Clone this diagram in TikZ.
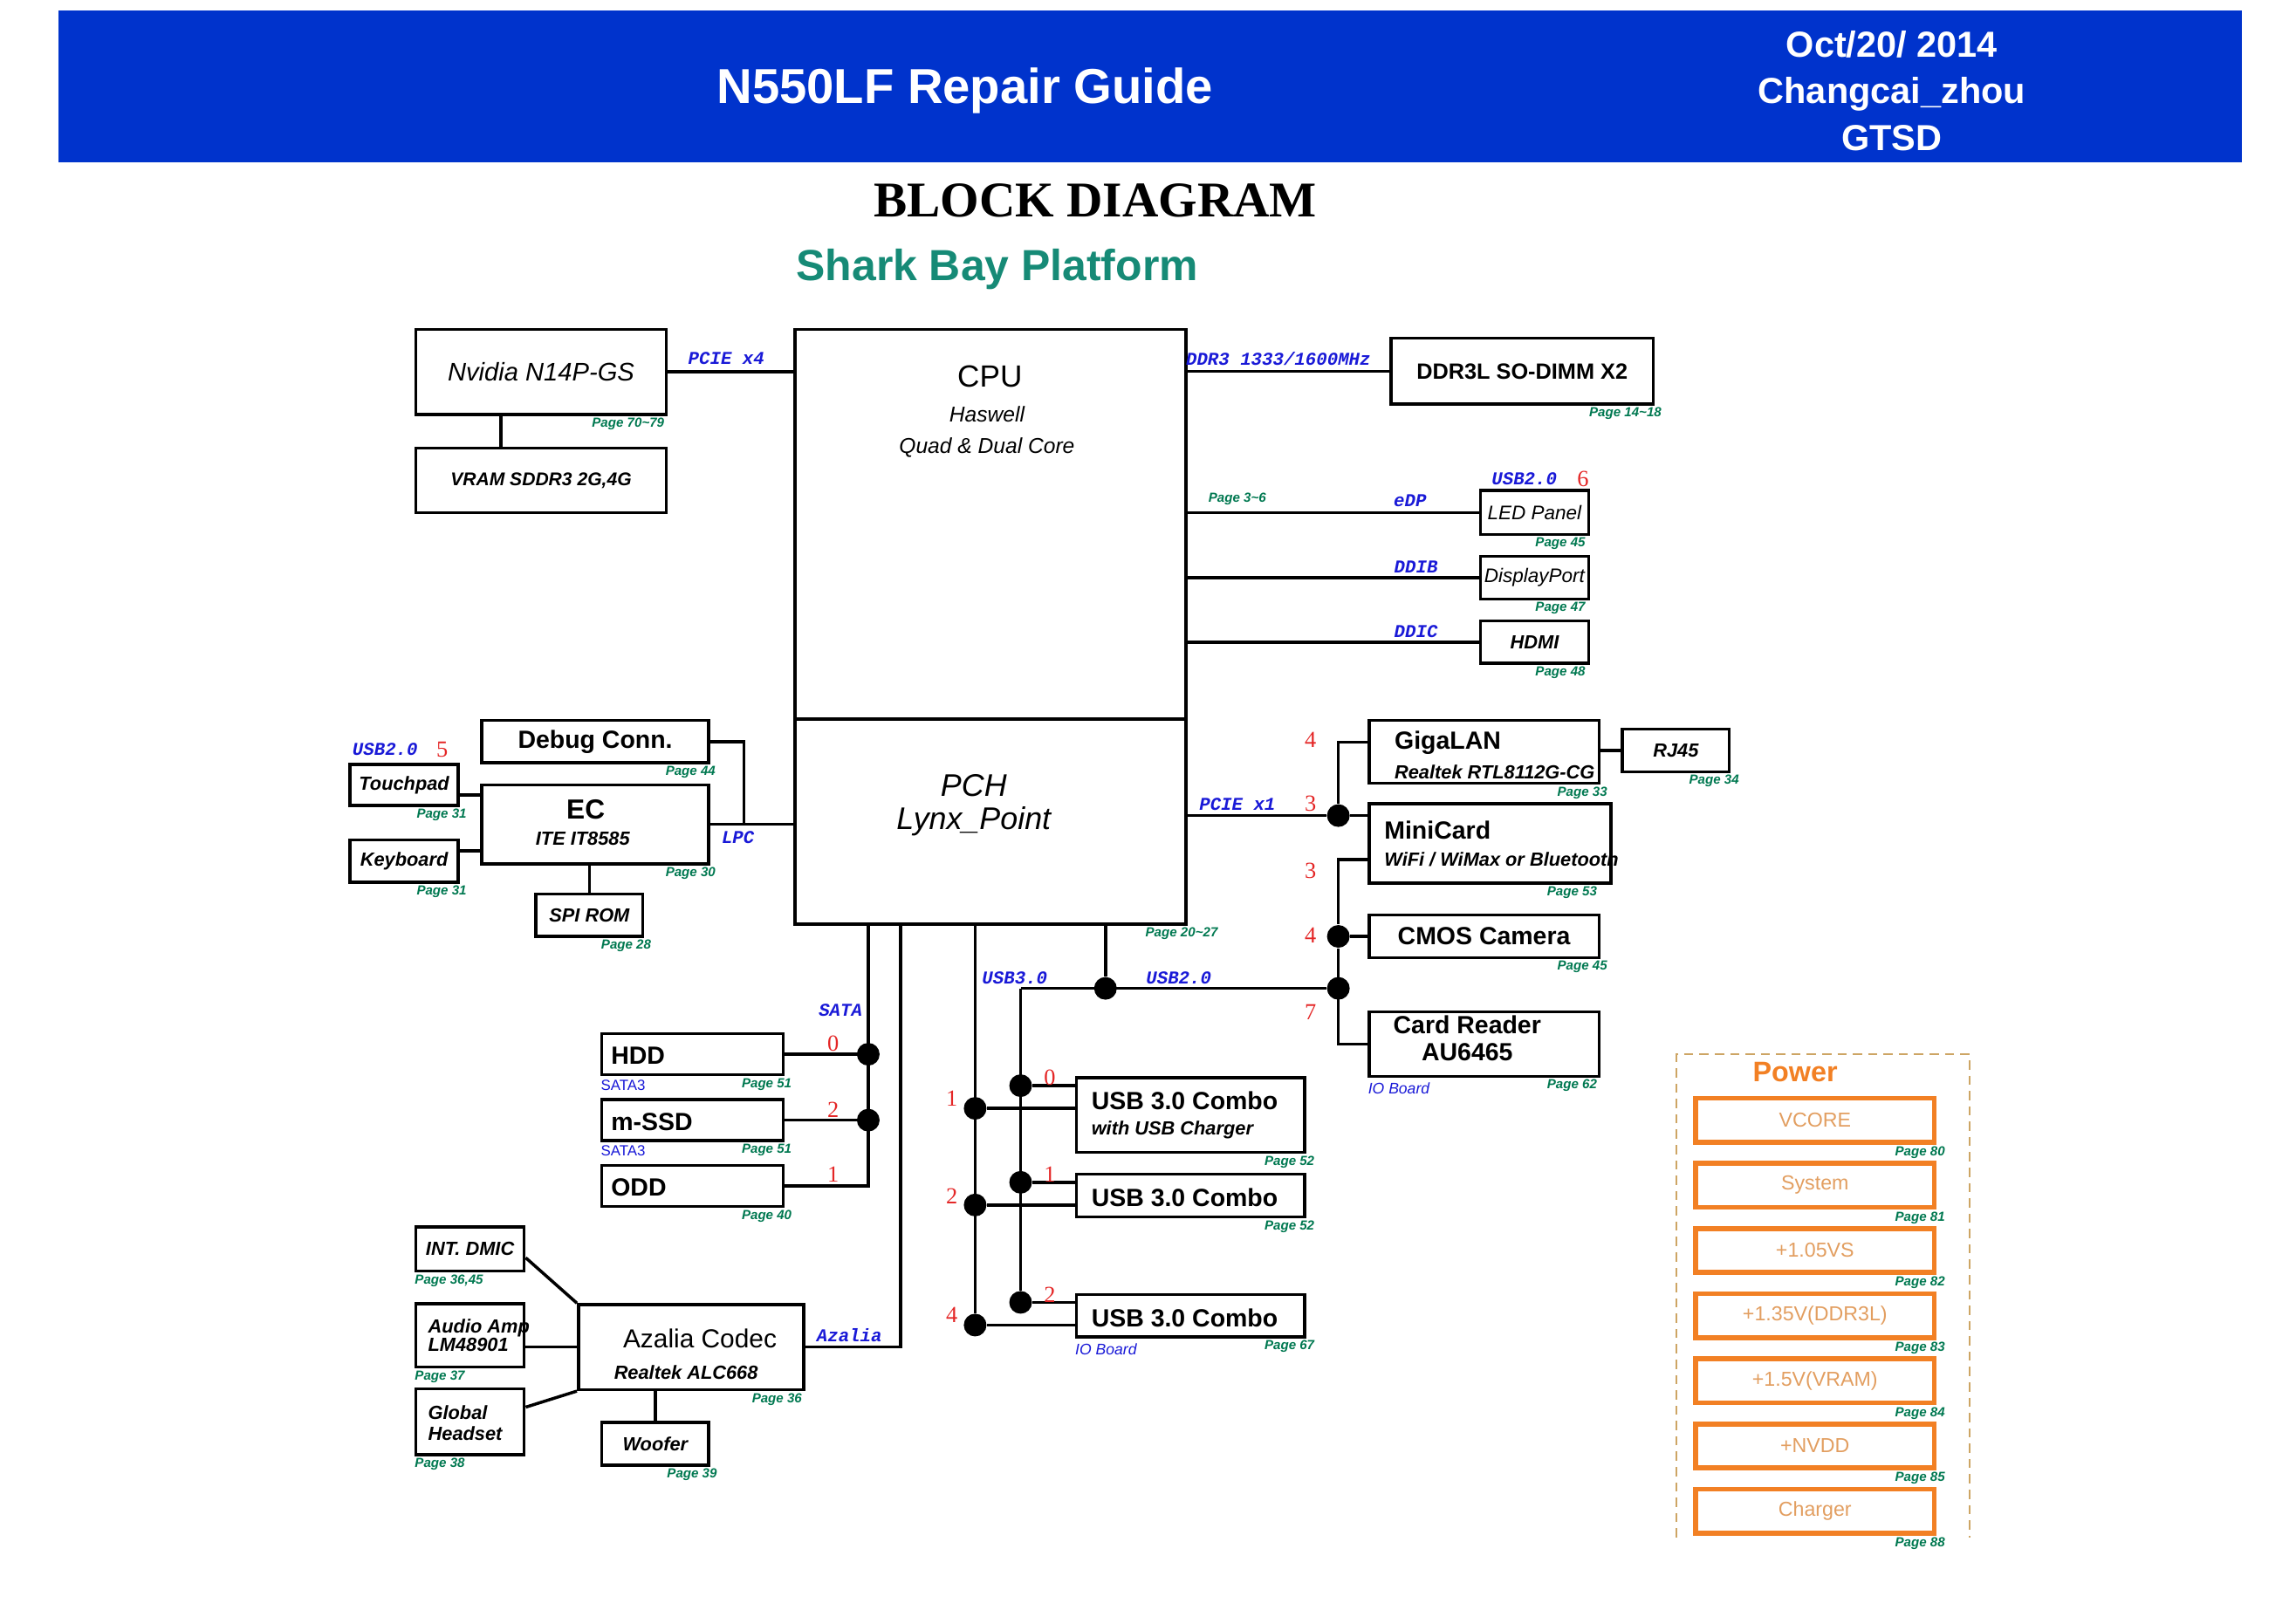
\documentclass[tikz,border=0pt]{standalone}
\usepackage{fontspec}
\setmainfont{Liberation Sans}
\setmonofont{Liberation Mono}
\newfontfamily\titlefont{Liberation Serif}
\usetikzlibrary{calc}

\definecolor{headblue}{RGB}{0,51,204}
\definecolor{platteal}{RGB}{22,138,118}
\definecolor{pagegreen}{RGB}{0,120,80}
\definecolor{busblue}{RGB}{25,25,215}
\definecolor{portred}{RGB}{228,38,38}
\definecolor{pwrorange}{RGB}{242,128,36}
\definecolor{pwrtext}{RGB}{226,158,96}
\definecolor{pwrframe}{RGB}{205,165,100}

\newcommand\fsz[2]{\fontsize{#1}{#2}\selectfont}

\begin{document}
\begin{tikzpicture}[x=0.1678mm, y=-0.1678mm,
every node/.style={inner sep=0pt},
blk/.style={draw, line width=1pt, align=center},
sz/.style 2 args={minimum width=#1*0.1678mm, minimum height=#2*0.1678mm},
wire/.style={line width=1pt},
jdot/.style={circle, fill, minimum size=2.6mm},
pg/.style={font=\fsz{4.3}{5}\bfseries\itshape, text=pagegreen},
bus/.style={font=\fsz{5.9}{7}\ttfamily\bfseries\itshape, text=busblue},
num/.style={font=\fsz{7.5}{8}\titlefont, text=portred},
big/.style={font=\fsz{8.1}{9}\bfseries},
sub/.style={font=\fsz{6.2}{7.4}\bfseries\itshape},
pwr/.style={draw=pwrorange, line width=1.6pt, sz={163}{30}, font=\fsz{6.6}{8}, text=pwrtext}
]
\useasboundingbox (0,0) rectangle (1568,1109);

% header
\node[fill=headblue, sz={1491}{104}] (band) at (785.5,59) {};
\node[font=\fsz{16}{19}\bfseries, text=white] (ttl) at (659,62) {N550LF Repair Guide};
\node[font=\fsz{11.8}{15.3}\bfseries, text=white, align=center] (meta) at (1292,62) {Oct/20/ 2014\\Changcai\_zhou\\GTSD};
\node[font=\fsz{16.3}{19}\titlefont\bfseries] (bd) at (748,137) {BLOCK DIAGRAM};
\node[font=\fsz{14.2}{16}\bfseries, text=platteal] (sbp) at (681,184) {Shark Bay Platform};

% cpu / pch
\node[blk, sz={267}{266}] (cpu) at (676.5,358) {};
\node[blk, sz={267}{140}] (pch) at (676.5,561) {};
\node[font=\fsz{10}{12}] (cpuN) at (676,257) {CPU};
\node[font=\fsz{7}{10}\itshape, align=center] (cpuS) at (674,295) {Haswell\\Quad \& Dual Core};
\node[font=\fsz{10.2}{11}\itshape, align=center] (pchN) at (665,550) {PCH\\Lynx\_Point};

% graphics, memory, display
\node[blk, sz={171}{58}, font=\fsz{8.3}{10}\itshape] (gpu) at (369.5,254) {Nvidia N14P-GS};
\node[blk, sz={171}{44}, font=\fsz{6}{7}\bfseries\itshape] (vram) at (369.5,328) {VRAM SDDR3 2G,4G};
\node[blk, sz={179}{45}, font=\fsz{7.2}{9}\bfseries] (ddr) at (1039.5,253.5) {DDR3L SO-DIMM X2};
\node[blk, sz={74}{30}, font=\fsz{6.4}{8}\itshape] (led) at (1048,350) {LED Panel};
\node[blk, sz={74}{29}, font=\fsz{6.4}{8}\itshape] (dp) at (1048,394.5) {DisplayPort};
\node[blk, sz={74}{29}, font=\fsz{6.2}{8}\bfseries\itshape] (hdmi) at (1048,438.5) {HDMI};

% ec side
\node[blk, sz={155}{29}, big] (dbg) at (406.5,506.5) {Debug Conn.};
\node[blk, sz={155}{54}] (ec) at (406.5,563) {};
\node[font=\fsz{9}{10}\bfseries] (ecN) at (400,553) {EC};
\node[sub] (ecS) at (398,573) {ITE IT8585};
\node[blk, sz={74}{28}, sub] (tpad) at (276,536) {Touchpad};
\node[blk, sz={74}{29}, sub] (kbd) at (276,588) {Keyboard};
\node[blk, sz={73}{29}, sub] (spi) at (402.5,625) {SPI ROM};

% storage
\node[blk, sz={124}{28}] (hdd) at (473,720) {};
\node[blk, sz={124}{28}] (mssd) at (473,765) {};
\node[blk, sz={124}{28}] (odd) at (473,810) {};
\node[big, anchor=west] (hddT) at ($(hdd.west)+(7,1)$) {HDD};
\node[big, anchor=west] (mssdT) at ($(mssd.west)+(7,1)$) {m-SSD};
\node[big, anchor=west] (oddT) at ($(odd.west)+(7,1)$) {ODD};

% audio
\node[blk, sz={154}{58}] (aza) at (472,920) {};
\node[font=\fsz{8.5}{10}] (azaN) at (478,914) {Azalia Codec};
\node[sub, anchor=west] (azaS) at (419,937) {Realtek ALC668};
\node[blk, sz={74}{30}, sub] (dmic) at (321,853) {INT. DMIC};
\node[blk, sz={74}{43}] (amp) at (321,912) {};
\node[blk, sz={74}{45}] (hset) at (321,971) {};
\node[sub, anchor=west, align=left, font=\fsz{6.2}{6}\bfseries\itshape] (ampT) at (292,912) {Audio Amp\\LM48901};
\node[sub, anchor=west, align=left, font=\fsz{6.2}{6.7}\bfseries\itshape] (hsetT) at (292,972) {Global\\Headset};
\node[blk, sz={73}{29}, sub] (wf) at (447.5,986) {Woofer};

% usb ports
\node[blk, sz={156}{51}] (u1) at (813,761.5) {};
\node[blk, sz={156}{29}] (u2) at (813,816.5) {};
\node[blk, sz={156}{29}] (u3) at (813,898.5) {};
\node[big, anchor=west] (u1T) at (745,752) {USB 3.0 Combo};
\node[sub, anchor=west] (u1S) at (745,772) {with USB Charger};
\node[big, anchor=west] (u2T) at (745,818) {USB 3.0 Combo};
\node[big, anchor=west] (u3T) at (745,900) {USB 3.0 Combo};

% pcie / usb devices
\node[blk, sz={157}{43}] (lan) at (1013.5,513.5) {};
\node[big, anchor=west] (lanT) at (952,507) {GigaLAN};
\node[sub, anchor=west] (lanS) at (952,527) {Realtek RTL8112G-CG};
\node[blk, sz={73}{29}, sub] (rj) at (1144.5,512.5) {RJ45};
\node[blk, sz={165}{54}] (mini) at (1017.5,576) {};
\node[big, anchor=west] (miniT) at (945,567) {MiniCard};
\node[sub, anchor=west] (miniS) at (945,587) {WiFi / WiMax or Bluetooth};
\node[blk, sz={157}{29}, big] (cmos) at (1013.5,639.5) {CMOS Camera};
\node[blk, sz={157}{44}] (card) at (1013.5,713) {};
\node[big, font=\fsz{8.1}{8.8}\bfseries, align=center] (cardT) at (1002,709) {Card Reader\\AU6465};

% power
\draw[pwrframe, densely dashed, line width=0.6pt] (1145,1050) |- (1345,720) -- (1345,1050);
\node[font=\fsz{9.2}{10}\bfseries, text=pwrorange] (pwrT) at (1226,732) {Power};
\foreach \t/\p [count=\i from 0] in {VCORE/80, System/81, +1.05VS/82, +1.35V(DDR3L)/83, +1.5V(VRAM)/84, +NVDD/85, Charger/88} {
  \node[pwr] (pw\i) at (1239.5,765+44.5*\i) {\t};
  \node[pg, anchor=north east] (pwp\i) at ($(pw\i.south east)+(6,1)$) {Page \p};
}

% bus taps and junctions
\coordinate (sata) at ($(pch.south west)+(51,0)$);
\coordinate (azt) at ($(pch.south west)+(73,0)$);
\coordinate (usbc) at ($(pch.south west)+(124,0)$);
\coordinate (usbt) at ($(pch.south west)+(213,0)$);
\coordinate (lpcj) at ($(ec.east)+(23,0)$);
\coordinate (gv) at ($(gpu.south west)+(59,0)$);
\coordinate (tp1) at ($(tpad.east)+(0,7)$);
\coordinate (kb1) at ($(kbd.east)+(0,-7)$);
\coordinate (dm1) at ($(dmic.east)+(0,6)$);
\coordinate (hs1) at ($(hset.east)+(0,-10)$);
\coordinate (l1) at ($(lan.west)+(0,-6.5)$);
\coordinate (m2) at ($(mini.west)+(0,11)$);
\coordinate (jl) at (697,675);
\node[jdot] (s0) at (sata |- hdd.east) {};
\node[jdot] (s2) at (sata |- mssd.east) {};
\node[jdot] (jtap) at (usbt |- jl) {};
\node[jdot] (jpci) at (914,557) {};
\node[jdot] (jcam) at (914,639.5) {};
\node[jdot] (jusb) at (914,675) {};

% straight links
\foreach \s/\t in {ddr.west/cpu.east, led.west/cpu.east, dp.west/cpu.east, hdmi.west/cpu.east,
                   gpu.east/cpu.west, ec.east/pch.west, aza.west/amp.east, rj.west/lan.east,
                   tp1/ec.west, kb1/ec.west, hdd.east/s0, mssd.east/s2,
                   jpci/pch.east, jpci/mini.west, jcam/cmos.west}
    \draw[wire] (\s) -- (\s -| \t);
\foreach \s/\t in {gv/vram.north, spi.north/ec.south, wf.north/aza.south}
    \draw[wire] (\s) -- (\s |- \t);

\draw[wire] (dbg.east) -| (lpcj);
\draw[wire] (odd.east) -| (sata);
\draw[wire] (aza.east) -| (azt);
\draw[wire] (dm1) -- (aza.north west);
\draw[wire] (hs1) -- (aza.south west);
\draw[wire] (l1) -| (jpci);
\draw[wire] (m2) -| (jcam) |- (card.west);
\draw[wire] (usbt) -- (jtap);
\draw[wire] (jl) -- (jusb);

% usb 3.0 combos
\foreach \u in {u1,u2,u3} {
  \coordinate (\u-a) at ($(\u.north west)+(0,6.5)$);
  \coordinate (\u-b) at ($(\u.north west)+(0,22)$);
  \node[jdot] (\u-d2) at (jl |- \u-a) {};
  \node[jdot] (\u-d3) at (usbc |- \u-b) {};
  \draw[wire] (\u-d2) -- (\u-a);
  \draw[wire] (\u-d3) -- (\u-b);
}
\draw[wire] (usbc) -- (u3-d3);
\draw[wire] (jl) -- (u3-d2);

% bus labels
\foreach \t/\x/\y [count=\k] in {PCIE x4/496/245, eDP/963/342, DDIB/967/387, DDIC/967/431,
          USB2.0/1041/327, USB2.0/263/512, LPC/504/572, PCIE x1/845/549, SATA/574/690,
          USB3.0/693/668, USB2.0/805/668, Azalia/580/912}
    \node[bus] (b\k) at (\x,\y) {\t};
\node[bus] (bddr) at (873,245) {DDR3 1333/1600MHz};

% port numbers
\foreach \n/\x/\y [count=\k] in {6/1081/327, 5/302/512, 4/895/505, 3/895/549, 3/895/595, 4/895/639,
          7/895/691, 0/569/713, 2/569/758, 1/569/802, 1/650/750, 2/650/817, 4/650/898,
          0/717/736, 1/717/802, 2/717/884}
    \node[num] (r\k) at (\x,\y) {\n};

% small notes
\node[font=\fsz{4.8}{5}, text=busblue, anchor=north west] (sa1) at ($(hdd.south west)+(0,2)$) {SATA3};
\node[font=\fsz{4.8}{5}, text=busblue, anchor=north west] (sa2) at ($(mssd.south west)+(0,2)$) {SATA3};
\node[font=\fsz{5}{6}\itshape, text=busblue, anchor=north west] (io1) at ($(u3.south west)+(0,3)$) {IO Board};
\node[font=\fsz{5}{6}\itshape, text=busblue, anchor=north west] (io2) at ($(card.south west)+(0,3)$) {IO Board};

% page refs
\foreach \b/\d/\p in {gpu/-2/70\textasciitilde79, ddr/5/14\textasciitilde18, led/-3/45, dp/-3/47, hdmi/-3/48,
          dbg/4/44, ec/4/30, tpad/5/31, kbd/5/31, spi/5/28, hdd/5/51, mssd/5/51, odd/5/40,
          aza/-2/36, wf/5/39, pch/21/20\textasciitilde27, u1/6/52, u2/6/52, u3/6/67, lan/5/33,
          rj/6/34, mini/-10/53, cmos/5/45, card/-2/62}
    \node[pg, anchor=north east] (p-\b) at ($(\b.south east)+(\d,1)$) {Page \p};
\foreach \b/\p in {dmic/{36,45}, amp/37, hset/38}
    \node[pg, anchor=north west] (p-\b) at ($(\b.south west)+(0,1)$) {Page \p};
\node[pg] (p-cpu) at (845,341) {Page 3\textasciitilde6};

\end{tikzpicture}
\end{document}
